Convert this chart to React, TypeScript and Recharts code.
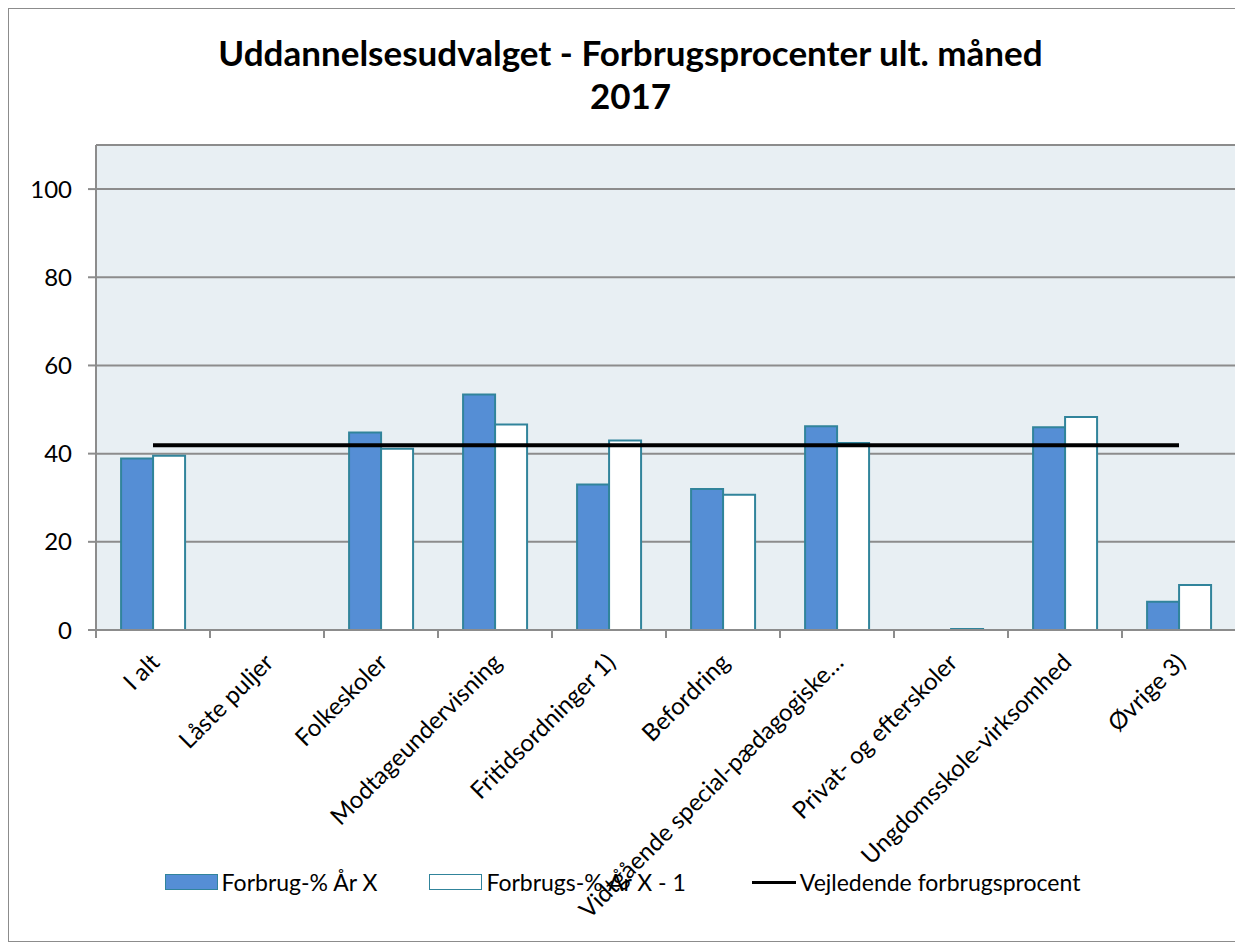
import { ComposedChart, Bar, Line, XAxis, YAxis, CartesianGrid, Legend } from 'recharts';

const categories = [
  'I alt',
  'Låste puljer',
  'Folkeskoler',
  'Modtageundervisning',
  'Fritidsordninger 1)',
  'Befordring',
  'Vidtgående special-pædagogiske…',
  'Privat- og efterskoler',
  'Ungdomsskole-virksomhed',
  'Øvrige 3)',
];
const aarX = [38.9, 0, 44.8, 53.4, 33.0, 32.0, 46.2, 0, 46.0, 6.4];
const aarX1 = [39.5, 0, 41.1, 46.6, 43.0, 30.7, 42.4, 0.2, 48.3, 10.2];
const vejledende = [41.9, 41.9, 41.9, 41.9, 41.9, 41.9, 41.9, 41.9, 41.9, 41.9];
const yTicks = [0, 20, 40, 60, 80, 100];

const data = categories.map((name, i) => ({
  name,
  x: aarX[i],
  x1: aarX1[i],
  v: vejledende[i],
}));

const FONT = 'Lato, "Open Sans", sans-serif';
const TEAL = '#31849B';
const BLUE = '#558ED5';

const XTick = (props: any) => {
  const { x, y, payload, index } = props;
  const off = payload.offset || 0;
  return (
    <g>
      <line x1={x - off} x2={x - off} y1={y - 8} y2={y} stroke="#8c8c8c" strokeWidth={2} />
      {index === categories.length - 1 && (
        <line x1={x + off} x2={x + off} y1={y - 8} y2={y} stroke="#8c8c8c" strokeWidth={2} />
      )}
      <text
        x={0}
        y={0}
        transform={`translate(${x + 8},${y + 26}) rotate(-45)`}
        textAnchor="end"
        fontSize={24}
        fontFamily={FONT}
        fill="#000"
      >
        {payload.value}
      </text>
    </g>
  );
};

const LegendContent = () => (
  <div
    style={{
      display: 'flex',
      justifyContent: 'center',
      alignItems: 'center',
      height: 30,
      fontFamily: FONT,
      fontSize: 23,
      color: '#000',
      paddingLeft: 0,
    }}
  >
    <span style={{ display: 'inline-block', width: 51, height: 14, background: BLUE, border: `1.5px solid ${TEAL}` }} />
    <span style={{ marginLeft: 4, marginRight: 52 }}>Forbrug-% År X</span>
    <span style={{ display: 'inline-block', width: 51, height: 14, background: '#fff', border: `1.5px solid ${TEAL}` }} />
    <span style={{ marginLeft: 4, marginRight: 66 }}>Forbrugs-% År X - 1</span>
    <span style={{ display: 'inline-block', width: 44, height: 3, background: '#000' }} />
    <span style={{ marginLeft: 4 }}>Vejledende forbrugsprocent</span>
  </div>
);

export default function App() {
  return (
    <div
      style={{
        position: 'relative',
        width: 1233,
        height: 932,
        border: '1px solid #8c8c8c',
        background: '#fff',
        fontFamily: FONT,
      }}
    >
      <div
        style={{
          position: 'absolute',
          top: 22,
          left: 0,
          width: 1243,
          textAlign: 'center',
          fontWeight: 700,
          fontSize: 35,
          lineHeight: '43px',
          zIndex: 1,
        }}
      >
        Uddannelsesudvalget - Forbrugsprocenter ult. måned
        <br />
        2017
      </div>
      <ComposedChart
        width={1233}
        height={932}
        data={data}
        margin={{ top: 136, right: 6, left: 0, bottom: 44 }}
        barCategoryGap="22%"
        barGap={0}
      >
        <CartesianGrid vertical={false} stroke="#8c8c8c" strokeWidth={2} fill="#E8EFF3" />
        <XAxis
          dataKey="name"
          interval={0}
          tick={<XTick />}
          tickLine={false}
          axisLine={{ stroke: '#8c8c8c', strokeWidth: 2 }}
          height={237}
        />
        <YAxis
          domain={[0, 110]}
          ticks={yTicks}
          width={87}
          tickSize={8}
          tickLine={{ stroke: '#8c8c8c', strokeWidth: 2 }}
          axisLine={{ stroke: '#8c8c8c', strokeWidth: 2 }}
          tick={{ fontSize: 24, fill: '#000', fontFamily: FONT }}
          tickMargin={16}
        />
        <Bar dataKey="x" name="Forbrug-% År X" fill={BLUE} stroke={TEAL} strokeWidth={2} isAnimationActive={false} />
        <Bar dataKey="x1" name="Forbrugs-% År X - 1" fill="#fff" stroke={TEAL} strokeWidth={2} isAnimationActive={false} />
        <Line
          dataKey="v"
          name="Vejledende forbrugsprocent"
          stroke="#000"
          strokeWidth={4}
          dot={false}
          activeDot={false}
          type="linear"
          isAnimationActive={false}
        />
        <Legend verticalAlign="bottom" content={<LegendContent />} />
      </ComposedChart>
    </div>
  );
}
